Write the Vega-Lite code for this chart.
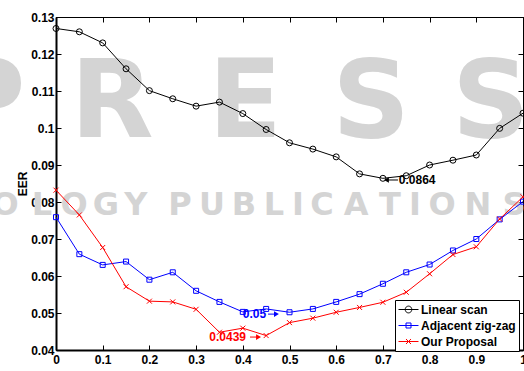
{
  "$schema": "https://vega.github.io/schema/vega-lite/v6.json",
  "width": 467,
  "height": 333,
  "autosize": "none",
  "padding": {"left": 56, "top": 17, "right": 1, "bottom": 21},
  "background": "white",
  "config": {
    "view": {"stroke": "black", "strokeWidth": 1},
    "axis": {"grid": false},
    "font": "Liberation Sans"
  },
  "datasets": {
    "curves": [
      {"series": "Linear scan", "eps": 0, "eer": 0.1269},
      {"series": "Linear scan", "eps": 0.05, "eer": 0.126},
      {"series": "Linear scan", "eps": 0.1, "eer": 0.123},
      {"series": "Linear scan", "eps": 0.15, "eer": 0.116},
      {"series": "Linear scan", "eps": 0.2, "eer": 0.1101},
      {"series": "Linear scan", "eps": 0.25, "eer": 0.1079},
      {"series": "Linear scan", "eps": 0.3, "eer": 0.1059},
      {"series": "Linear scan", "eps": 0.35, "eer": 0.107},
      {"series": "Linear scan", "eps": 0.4, "eer": 0.1039},
      {"series": "Linear scan", "eps": 0.45, "eer": 0.0996},
      {"series": "Linear scan", "eps": 0.5, "eer": 0.096},
      {"series": "Linear scan", "eps": 0.55, "eer": 0.0943},
      {"series": "Linear scan", "eps": 0.6, "eer": 0.0922},
      {"series": "Linear scan", "eps": 0.65, "eer": 0.0876},
      {"series": "Linear scan", "eps": 0.7, "eer": 0.0864},
      {"series": "Linear scan", "eps": 0.75, "eer": 0.0871},
      {"series": "Linear scan", "eps": 0.8, "eer": 0.09},
      {"series": "Linear scan", "eps": 0.85, "eer": 0.0913},
      {"series": "Linear scan", "eps": 0.9, "eer": 0.0927},
      {"series": "Linear scan", "eps": 0.95, "eer": 0.0999},
      {"series": "Linear scan", "eps": 1, "eer": 0.104},
      {"series": "Adjacent zig-zag", "eps": 0, "eer": 0.0759},
      {"series": "Adjacent zig-zag", "eps": 0.05, "eer": 0.0659},
      {"series": "Adjacent zig-zag", "eps": 0.1, "eer": 0.063},
      {"series": "Adjacent zig-zag", "eps": 0.15, "eer": 0.0639},
      {"series": "Adjacent zig-zag", "eps": 0.2, "eer": 0.059},
      {"series": "Adjacent zig-zag", "eps": 0.25, "eer": 0.061},
      {"series": "Adjacent zig-zag", "eps": 0.3, "eer": 0.056},
      {"series": "Adjacent zig-zag", "eps": 0.35, "eer": 0.053},
      {"series": "Adjacent zig-zag", "eps": 0.4, "eer": 0.0503},
      {"series": "Adjacent zig-zag", "eps": 0.45, "eer": 0.0511},
      {"series": "Adjacent zig-zag", "eps": 0.5, "eer": 0.0502},
      {"series": "Adjacent zig-zag", "eps": 0.55, "eer": 0.0511},
      {"series": "Adjacent zig-zag", "eps": 0.6, "eer": 0.053},
      {"series": "Adjacent zig-zag", "eps": 0.65, "eer": 0.0551},
      {"series": "Adjacent zig-zag", "eps": 0.7, "eer": 0.0579},
      {"series": "Adjacent zig-zag", "eps": 0.75, "eer": 0.061},
      {"series": "Adjacent zig-zag", "eps": 0.8, "eer": 0.0631},
      {"series": "Adjacent zig-zag", "eps": 0.85, "eer": 0.0669},
      {"series": "Adjacent zig-zag", "eps": 0.9, "eer": 0.07},
      {"series": "Adjacent zig-zag", "eps": 0.95, "eer": 0.0753},
      {"series": "Adjacent zig-zag", "eps": 1, "eer": 0.0801},
      {"series": "Our Proposal", "eps": 0, "eer": 0.0832},
      {"series": "Our Proposal", "eps": 0.05, "eer": 0.0765},
      {"series": "Our Proposal", "eps": 0.1, "eer": 0.0677},
      {"series": "Our Proposal", "eps": 0.15, "eer": 0.0571},
      {"series": "Our Proposal", "eps": 0.2, "eer": 0.0532},
      {"series": "Our Proposal", "eps": 0.25, "eer": 0.053},
      {"series": "Our Proposal", "eps": 0.3, "eer": 0.051},
      {"series": "Our Proposal", "eps": 0.35, "eer": 0.0448},
      {"series": "Our Proposal", "eps": 0.4, "eer": 0.0459},
      {"series": "Our Proposal", "eps": 0.45, "eer": 0.0439},
      {"series": "Our Proposal", "eps": 0.5, "eer": 0.0474},
      {"series": "Our Proposal", "eps": 0.55, "eer": 0.0486},
      {"series": "Our Proposal", "eps": 0.6, "eer": 0.0502},
      {"series": "Our Proposal", "eps": 0.65, "eer": 0.0515},
      {"series": "Our Proposal", "eps": 0.7, "eer": 0.0529},
      {"series": "Our Proposal", "eps": 0.75, "eer": 0.0556},
      {"series": "Our Proposal", "eps": 0.8, "eer": 0.0606},
      {"series": "Our Proposal", "eps": 0.85, "eer": 0.0658},
      {"series": "Our Proposal", "eps": 0.9, "eer": 0.0679},
      {"series": "Our Proposal", "eps": 0.95, "eer": 0.0754},
      {"series": "Our Proposal", "eps": 1, "eer": 0.0814}
    ],
    "notes": [
      {"series": "Linear scan", "label": "0.0864", "tx": 0.734, "ty": 0.086, "tail": 0.7323, "head": 0.7076, "ay": 0.08595, "dir": "left"},
      {"series": "Adjacent zig-zag", "label": "0.05", "tx": 0.3998, "ty": 0.0497, "tail": 0.454, "head": 0.472, "ay": 0.0497, "dir": "right"},
      {"series": "Our Proposal", "label": "0.0439", "tx": 0.3283, "ty": 0.0435, "tail": 0.4154, "head": 0.4337, "ay": 0.0435, "dir": "right"}
    ],
    "wm1": [
      {"ch": "P", "px": -0.15, "py": 0.0976},
      {"ch": "R", "px": 0.12, "py": 0.0976},
      {"ch": "E", "px": 0.405, "py": 0.0976},
      {"ch": "S", "px": 0.675, "py": 0.0976},
      {"ch": "S", "px": 0.931, "py": 0.0976}
    ],
    "wm2": [
      {"ch": "O", "px": -0.109, "py": 0.0765},
      {"ch": "L", "px": -0.03, "py": 0.0765},
      {"ch": "O", "px": 0.0385, "py": 0.0765},
      {"ch": "G", "px": 0.107, "py": 0.0765},
      {"ch": "Y", "px": 0.171, "py": 0.0765},
      {"ch": "P", "px": 0.2655, "py": 0.0765},
      {"ch": "U", "px": 0.334, "py": 0.0765},
      {"ch": "B", "px": 0.4026, "py": 0.0765},
      {"ch": "L", "px": 0.4668, "py": 0.0765},
      {"ch": "I", "px": 0.5182, "py": 0.0765},
      {"ch": "C", "px": 0.5696, "py": 0.0765},
      {"ch": "A", "px": 0.6424, "py": 0.0765},
      {"ch": "T", "px": 0.7152, "py": 0.0765},
      {"ch": "I", "px": 0.7687, "py": 0.0765},
      {"ch": "O", "px": 0.8266, "py": 0.0765},
      {"ch": "N", "px": 0.9036, "py": 0.0765},
      {"ch": "S", "px": 0.9807, "py": 0.0765}
    ]
  },
  "layer": [
    {
      "data": {"name": "wm1"},
      "mark": {"type": "text", "font": "DejaVu Sans", "fontWeight": "bold", "fontSize": 108, "color": "#d4d4d4", "align": "center", "baseline": "alphabetic"},
      "encoding": {
        "x": {"field": "px", "type": "quantitative", "scale": {"domain": [0, 1], "nice": false, "zero": false}, "axis": null},
        "y": {"field": "py", "type": "quantitative", "scale": {"domain": [0.04, 0.13], "nice": false, "zero": false}, "axis": null},
        "text": {"field": "ch"}
      }
    },
    {
      "data": {"name": "wm2"},
      "mark": {"type": "text", "font": "DejaVu Sans", "fontWeight": "bold", "fontSize": 32, "color": "#d4d4d4", "align": "center", "baseline": "alphabetic"},
      "encoding": {
        "x": {"field": "px", "type": "quantitative", "axis": null},
        "y": {"field": "py", "type": "quantitative", "axis": null},
        "text": {"field": "ch"}
      }
    },
    {
      "data": {"name": "curves"},
      "mark": {"type": "line", "strokeWidth": 1},
      "encoding": {
        "x": {"field": "eps", "type": "quantitative",
          "axis": {"orient": "bottom", "values": [0, 0.1, 0.2, 0.3, 0.4, 0.5, 0.6, 0.7, 0.8, 0.9, 1], "format": "~g", "tickSize": -5, "tickColor": "black", "domainColor": "black", "domainWidth": 2, "labelPadding": 9, "labelFlush": false, "labelOverlap": false, "labelBound": false, "labelFont": "Liberation Sans", "labelFontSize": 12, "labelFontWeight": "bold", "labelColor": "black", "title": "ε", "titleFont": "Liberation Sans", "titleFontSize": 12, "titleFontWeight": "bold", "titleColor": "black", "titlePadding": 3}},
        "y": {"field": "eer", "type": "quantitative",
          "axis": {"orient": "left", "values": [0.04, 0.05, 0.06, 0.07, 0.08, 0.09, 0.1, 0.11, 0.12, 0.13], "format": "~g", "tickSize": -5, "tickColor": "black", "domainColor": "black", "domainWidth": 2, "labelPadding": 7, "labelFlush": false, "labelOverlap": false, "labelBound": false, "labelFont": "Liberation Sans", "labelFontSize": 12, "labelFontWeight": "bold", "labelColor": "black", "title": "EER", "titleFont": "Liberation Sans", "titleFontSize": 12, "titleFontWeight": "bold", "titleColor": "black", "titlePadding": 1}},
        "stroke": {"field": "series", "type": "nominal", "scale": {"domain": ["Adjacent zig-zag", "Linear scan", "Our Proposal"], "range": ["#0000ff", "#000000", "#ff0000"]}, "legend": null}
      }
    },
    {
      "data": {"name": "curves"},
      "transform": [{"filter": "datum.series === 'Linear scan'"}],
      "mark": {"type": "point", "shape": "circle", "filled": false, "size": 36, "strokeWidth": 1, "color": "#000000", "opacity": 1},
      "encoding": {
        "x": {"field": "eps", "type": "quantitative",
          "axis": {"orient": "top", "values": [0, 0.1, 0.2, 0.3, 0.4, 0.5, 0.6, 0.7, 0.8, 0.9, 1], "labels": false, "tickSize": -5, "tickColor": "black", "domainColor": "black", "domainWidth": 1, "title": null}},
        "y": {"field": "eer", "type": "quantitative",
          "axis": {"orient": "right", "values": [0.04, 0.05, 0.06, 0.07, 0.08, 0.09, 0.1, 0.11, 0.12, 0.13], "labels": false, "tickSize": -5, "tickColor": "black", "domainColor": "black", "domainWidth": 1, "title": null}}
      }
    },
    {
      "data": {"name": "curves"},
      "transform": [{"filter": "datum.series === 'Adjacent zig-zag'"}],
      "mark": {"type": "point", "shape": "square", "filled": false, "size": 25, "strokeWidth": 1, "color": "#0000ff", "opacity": 1},
      "encoding": {
        "x": {"field": "eps", "type": "quantitative", "axis": null},
        "y": {"field": "eer", "type": "quantitative", "axis": null}
      }
    },
    {
      "data": {"name": "curves"},
      "transform": [{"filter": "datum.series === 'Our Proposal'"}],
      "mark": {"type": "point", "shape": "M-1,-1L1,1M-1,1L1,-1", "filled": false, "size": 25, "strokeWidth": 1, "color": "#ff0000", "opacity": 1},
      "encoding": {
        "x": {"field": "eps", "type": "quantitative", "axis": null},
        "y": {"field": "eer", "type": "quantitative", "axis": null}
      }
    },
    {
      "data": {"name": "curves"},
      "mark": {"type": "point", "filled": false, "opacity": 0, "strokeWidth": 1},
      "encoding": {
        "x": {"field": "eps", "type": "quantitative", "axis": null},
        "y": {"field": "eer", "type": "quantitative", "axis": null},
        "color": {"field": "series", "type": "nominal",
          "scale": {"domain": ["Linear scan", "Adjacent zig-zag", "Our Proposal"], "range": ["#000000", "#0000ff", "#ff0000"]},
          "legend": {"orient": "none", "legendX": 339, "legendY": 283, "title": null, "padding": 3, "rowPadding": 3, "strokeColor": "black", "fillColor": "white", "symbolSize": 144, "symbolStrokeWidth": 1, "symbolOpacity": 1, "labelOffset": 10, "labelFont": "Liberation Sans", "labelFontSize": 12, "labelFontWeight": "bold", "labelColor": "black", "cornerRadius": 0,
            "encode": {"symbols": {"update": {"stroke": {"signal": "datum.value === 'Linear scan' ? '#000000' : (datum.value === 'Adjacent zig-zag' ? '#0000ff' : '#ff0000')"}, "fill": {"value": "transparent"}, "strokeWidth": {"value": 1}, "opacity": {"value": 1}}}}}},
        "shape": {"field": "series", "type": "nominal",
          "scale": {"domain": ["Linear scan", "Adjacent zig-zag", "Our Proposal"], "range": [
            "M-1,0H2.333M0.125,0A0.542,0.542 0 1,0 1.208,0A0.542,0.542 0 1,0 0.125,0",
            "M-1,0H2.333M0.25,-0.417H1.083V0.417H0.25Z",
            "M-1,0H2.333M0.25,-0.417L1.083,0.417M0.25,0.417L1.083,-0.417"
          ]},
          "legend": {"orient": "none", "legendX": 339, "legendY": 283, "title": null, "padding": 3, "rowPadding": 3, "strokeColor": "black", "fillColor": "white", "symbolSize": 144, "symbolStrokeWidth": 1, "symbolOpacity": 1, "labelOffset": 10, "labelFont": "Liberation Sans", "labelFontSize": 12, "labelFontWeight": "bold", "labelColor": "black", "cornerRadius": 0,
            "encode": {"symbols": {"update": {"stroke": {"signal": "datum.value === 'Linear scan' ? '#000000' : (datum.value === 'Adjacent zig-zag' ? '#0000ff' : '#ff0000')"}, "fill": {"value": "transparent"}, "strokeWidth": {"value": 1}, "opacity": {"value": 1}}}}}}
      }
    },
    {
      "data": {"name": "notes"},
      "mark": {"type": "text", "font": "Liberation Sans", "fontWeight": "bold", "fontSize": 12, "align": "left", "baseline": "middle"},
      "encoding": {
        "x": {"field": "tx", "type": "quantitative", "axis": null},
        "y": {"field": "ty", "type": "quantitative", "axis": null},
        "text": {"field": "label"},
        "fill": {"field": "series", "type": "nominal", "scale": {"domain": ["Adjacent zig-zag", "Linear scan", "Our Proposal"], "range": ["#0000ff", "#000000", "#ff0000"]}, "legend": null}
      }
    },
    {
      "data": {"name": "notes"},
      "mark": {"type": "rule", "strokeWidth": 1},
      "encoding": {
        "x": {"field": "tail", "type": "quantitative", "axis": null},
        "x2": {"field": "head"},
        "y": {"field": "ay", "type": "quantitative", "axis": null},
        "stroke": {"field": "series", "type": "nominal", "legend": null}
      }
    },
    {
      "data": {"name": "notes"},
      "transform": [{"filter": "datum.dir === 'left'"}],
      "mark": {"type": "point", "shape": "triangle-left", "filled": true, "size": 32, "opacity": 1},
      "encoding": {
        "x": {"field": "head", "type": "quantitative", "axis": null},
        "y": {"field": "ay", "type": "quantitative", "axis": null},
        "fill": {"field": "series", "type": "nominal", "legend": null}
      }
    },
    {
      "data": {"name": "notes"},
      "transform": [{"filter": "datum.dir === 'right'"}],
      "mark": {"type": "point", "shape": "triangle-right", "filled": true, "size": 32, "opacity": 1},
      "encoding": {
        "x": {"field": "head", "type": "quantitative", "axis": null},
        "y": {"field": "ay", "type": "quantitative", "axis": null},
        "fill": {"field": "series", "type": "nominal", "legend": null}
      }
    }
  ]
}
